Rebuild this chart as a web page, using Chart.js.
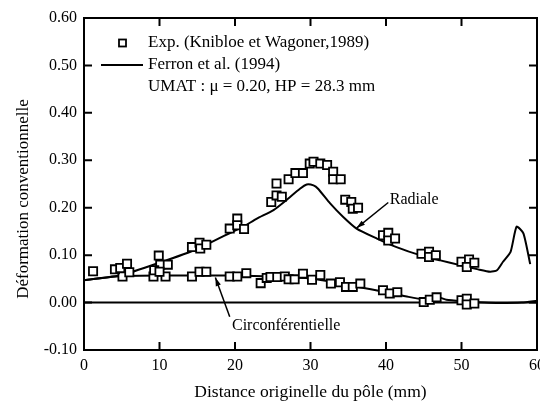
<!DOCTYPE html>
<html><head><meta charset="utf-8">
<script src="https://cdn.jsdelivr.net/npm/chart.js@4/dist/chart.umd.min.js"></script>
<style>html,body{margin:0;padding:0;background:#fff}</style>
</head><body>
<canvas id="c" width="540" height="403"></canvas>
<script>
// ---- data ----
const xTicks = [0, 10, 20, 30, 40, 50, 60];
const yTicks = [-0.10, 0.00, 0.10, 0.20, 0.30, 0.40, 0.50, 0.60];

const radialExpX = [4.1, 4.8, 5.7, 6.0, 9.9, 10.1, 11.1, 9.3, 10.0, 14.3, 15.3, 15.4, 16.2, 19.3, 20.3, 20.3, 21.2, 24.8, 25.5, 25.5, 26.2, 27.1, 28.0, 29.0, 29.9, 30.4, 31.3, 32.2, 33.0, 33.0, 34.0, 34.6, 35.4, 35.6, 36.3, 39.6, 40.3, 40.3, 41.2, 44.7, 45.7, 45.7, 46.6, 50.0, 51.0, 50.7, 51.7];
const radialExpY = [0.070, 0.073, 0.082, 0.064, 0.099, 0.080, 0.080, 0.068, 0.065, 0.117, 0.126, 0.114, 0.122, 0.156, 0.177, 0.163, 0.155, 0.212, 0.251, 0.226, 0.223, 0.260, 0.273, 0.273, 0.293, 0.297, 0.293, 0.290, 0.276, 0.260, 0.260, 0.217, 0.212, 0.198, 0.200, 0.142, 0.147, 0.131, 0.135, 0.103, 0.107, 0.096, 0.100, 0.086, 0.091, 0.075, 0.084];

const circExpX = [1.2, 5.1, 9.2, 10.8, 14.3, 15.3, 16.2, 19.3, 20.3, 21.5, 23.4, 24.2, 24.7, 25.6, 26.6, 27.1, 27.9, 29.0, 30.2, 31.3, 32.7, 33.9, 34.7, 35.6, 36.6, 39.6, 40.5, 41.5, 45.0, 45.8, 46.7, 50.0, 50.7, 50.7, 51.7];
const circExpY = [0.066, 0.055, 0.055, 0.055, 0.055, 0.065, 0.065, 0.055, 0.055, 0.062, 0.041, 0.052, 0.054, 0.054, 0.055, 0.049, 0.049, 0.061, 0.048, 0.058, 0.040, 0.043, 0.033, 0.033, 0.040, 0.026, 0.019, 0.022, 0.001, 0.006, 0.011, 0.005, 0.008, -0.004, -0.002];

const radialModelX = [0, 5, 10, 15, 20, 21.1, 22.9, 25.1, 26.8, 28.6, 29.5, 30.4, 31.0, 32.6, 34.3, 36.1, 38.8, 41.4, 44.5, 47.2, 49.8, 52.2, 53.8, 54.7, 55.5, 56.5, 57.3, 58.2, 59.1];
const radialModelY = [0.047, 0.058, 0.084, 0.113, 0.152, 0.160, 0.177, 0.195, 0.216, 0.240, 0.249, 0.247, 0.240, 0.209, 0.181, 0.156, 0.135, 0.117, 0.100, 0.089, 0.079, 0.070, 0.065, 0.068, 0.086, 0.107, 0.160, 0.146, 0.081];

const circModelX = [0, 3, 5, 10, 15, 20, 25, 28, 30, 32, 35, 38, 40, 43, 45, 46, 47, 48, 50, 53, 55, 58, 60];
const circModelY = [0.047, 0.053, 0.056, 0.057, 0.057, 0.057, 0.055, 0.053, 0.051, 0.046, 0.037, 0.028, 0.022, 0.012, 0.007, 0.009, 0.011, 0.006, 0.003, 0.000, -0.001, 0.000, 0.004];

const legendTexts = ["Exp. (Knibloe et Wagoner,1989)", "Ferron et al. (1994)", "UMAT : \u03bc = 0.20, HP = 28.3 mm"];
const xTitle = "Distance originelle du p\u00f4le (mm)";
const yTitle = "D\u00e9formation conventionnelle";
// annotations: label, text position (data), arrow tail (data), arrow tip (data)
const annotLabels = ["Radiale", "Circonf\u00e9rentielle"];
const annotTextPos = [[40.5, 0.216], [19.6, -0.048]];
const annotArrowFrom = [[40.3, 0.211], [19.3, -0.030]];
const annotArrowTo = [[36.1, 0.157], [17.4, 0.053]];

const pts = (xs, ys) => xs.map((x, i) => ({x, y: ys[i]}));
const FONT = "'Liberation Serif', 'Times New Roman', serif";

const decor = {
  id: 'decor',
  beforeDatasetsDraw(chart) {
    const {ctx, chartArea: a, scales: {x, y}} = chart;
    ctx.save();
    ctx.strokeStyle = '#000';
    ctx.lineWidth = 2;
    const y0 = y.getPixelForValue(0);
    ctx.beginPath(); ctx.moveTo(a.left, y0); ctx.lineTo(a.right, y0); ctx.stroke();
    ctx.restore();
  },
  afterDatasetsDraw(chart) {
    const {ctx, chartArea: a, scales: {x, y}} = chart;
    ctx.save();
    ctx.strokeStyle = '#000';
    ctx.lineWidth = 2;
    ctx.strokeRect(a.left, a.top, a.right - a.left, a.bottom - a.top);
    const tl = 8;
    ctx.beginPath();
    xTicks.forEach(v => {
      const px = x.getPixelForValue(v);
      ctx.moveTo(px, a.bottom); ctx.lineTo(px, a.bottom - tl);
      ctx.moveTo(px, a.top); ctx.lineTo(px, a.top + tl);
    });
    yTicks.forEach(v => {
      const py = y.getPixelForValue(v);
      ctx.moveTo(a.left, py); ctx.lineTo(a.left + tl, py);
      ctx.moveTo(a.right, py); ctx.lineTo(a.right - tl, py);
    });
    ctx.stroke();

    // legend
    ctx.font = '17px ' + FONT;
    ctx.textBaseline = 'middle';
    ctx.textAlign = 'left';
    const lx = a.left + 64, ly = a.top + 25, dy = 22;
    ctx.lineWidth = 1.8;
    ctx.fillStyle = '#fff';
    ctx.fillRect(a.left + 35, ly - 3.5, 7, 7);
    ctx.strokeRect(a.left + 35, ly - 3.5, 7, 7);
    ctx.fillStyle = '#000';
    ctx.beginPath(); ctx.moveTo(a.left + 17, ly + dy); ctx.lineTo(a.left + 59, ly + dy); ctx.stroke();
    legendTexts.forEach((t, i) => ctx.fillText(t, lx, ly + i * dy));

    // annotations
    ctx.font = '16px ' + FONT;
    ctx.lineWidth = 1.5;
    annotLabels.forEach((t, i) => {
      const tx = x.getPixelForValue(annotTextPos[i][0]), ty = y.getPixelForValue(annotTextPos[i][1]);
      ctx.fillText(t, tx, ty);
      const fx = x.getPixelForValue(annotArrowFrom[i][0]), fy = y.getPixelForValue(annotArrowFrom[i][1]);
      const ex = x.getPixelForValue(annotArrowTo[i][0]), ey = y.getPixelForValue(annotArrowTo[i][1]);
      ctx.beginPath(); ctx.moveTo(fx, fy); ctx.lineTo(ex, ey); ctx.stroke();
      const ang = Math.atan2(ey - fy, ex - fx), L = 9, W = 0.3;
      ctx.beginPath();
      ctx.moveTo(ex, ey);
      ctx.lineTo(ex - L * Math.cos(ang - W), ey - L * Math.sin(ang - W));
      ctx.lineTo(ex - L * Math.cos(ang + W), ey - L * Math.sin(ang + W));
      ctx.closePath(); ctx.fill();
    });

    // axis titles
    ctx.textAlign = 'center';
    ctx.font = '17.5px ' + FONT;
    ctx.fillText(xTitle, (a.left + a.right) / 2, 392);
    ctx.font = '17px ' + FONT;
    ctx.translate(24, 199);
    ctx.rotate(-Math.PI / 2);
    ctx.fillText(yTitle, 0, 0);
    ctx.restore();
  }
};

new Chart(document.getElementById('c'), {
  type: 'scatter',
  data: {
    datasets: [
      {label: 'Exp. radiale', data: pts(radialExpX, radialExpY), pointStyle: 'rect', pointRadius: 5.8, borderColor: '#000', backgroundColor: '#fff', borderWidth: 1.8, showLine: false},
      {label: 'Exp. circ', data: pts(circExpX, circExpY), pointStyle: 'rect', pointRadius: 5.8, borderColor: '#000', backgroundColor: '#fff', borderWidth: 1.8, showLine: false},
      {label: 'Radiale', data: pts(radialModelX, radialModelY), showLine: true, pointRadius: 0, borderColor: '#000', borderWidth: 2, tension: 0.2},
      {label: 'Circ', data: pts(circModelX, circModelY), showLine: true, pointRadius: 0, borderColor: '#000', borderWidth: 2, tension: 0.2}
    ]
  },
  options: {
    responsive: false,
    animation: false,
    layout: {autoPadding: false, padding: {top: 18, right: 3, left: 0, bottom: 0}},
    plugins: {legend: {display: false}, tooltip: {enabled: false}},
    scales: {
      x: {
        type: 'linear', min: 0, max: 60,
        afterBuildTicks: s => { s.ticks = xTicks.map(v => ({value: v})); },
        afterFit: s => { s.height = 53; s.paddingLeft = 0; s.paddingRight = 0; },
        grid: {display: false, drawTicks: false, tickLength: 0}, border: {display: false},
        ticks: {color: '#000', font: {family: FONT, size: 16}, padding: 6, callback: v => String(v), maxRotation: 0}
      },
      y: {
        type: 'linear', min: -0.1, max: 0.6,
        afterBuildTicks: s => { s.ticks = yTicks.map(v => ({value: v})); },
        afterFit: s => { s.width = 84; s.paddingTop = 0; s.paddingBottom = 0; },
        grid: {display: false, drawTicks: false, tickLength: 0}, border: {display: false},
        ticks: {color: '#000', font: {family: FONT, size: 16}, padding: 7, callback: v => Number(v).toFixed(2)}
      }
    }
  },
  plugins: [decor]
});
</script>
</body></html>
